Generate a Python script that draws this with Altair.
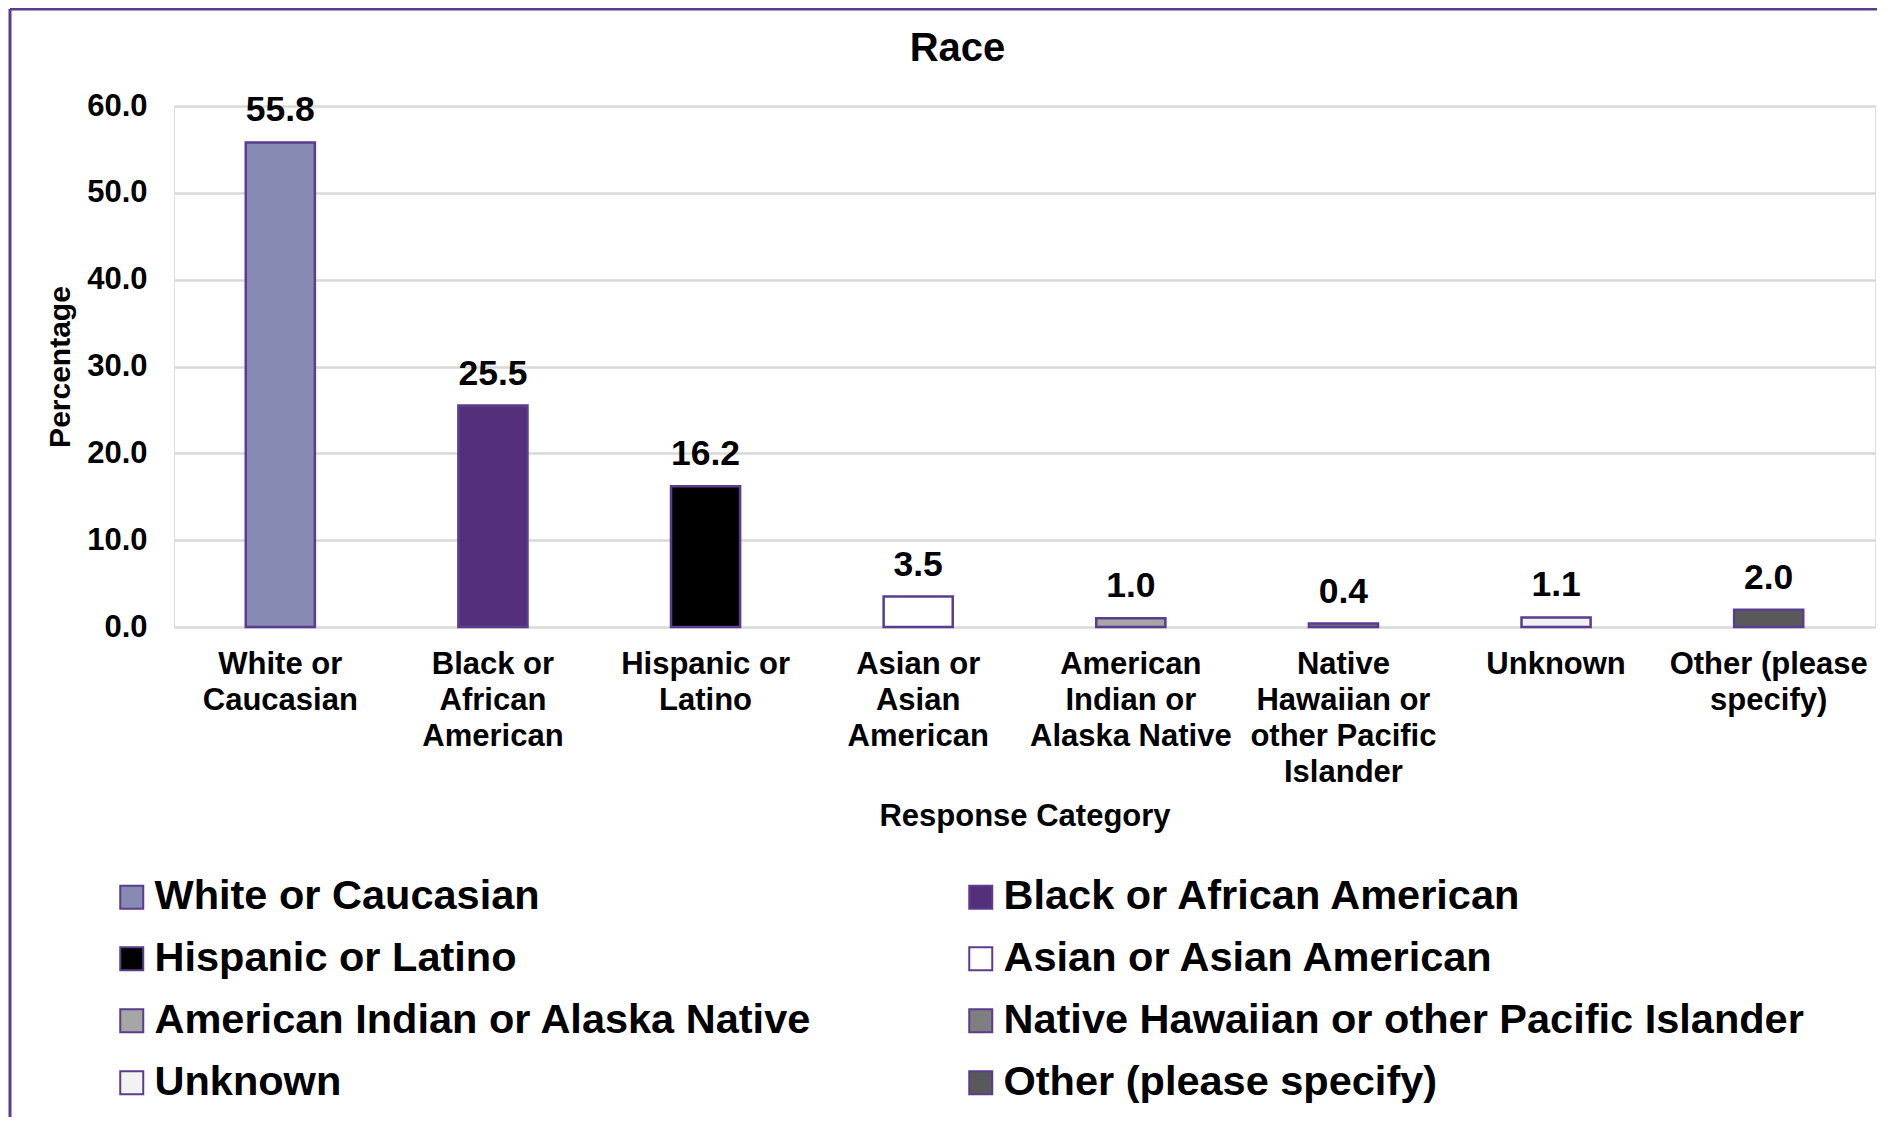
import altair as alt
import pandas as pd

categories = [
    "White or Caucasian",
    "Black or African American",
    "Hispanic or Latino",
    "Asian or Asian American",
    "American Indian or Alaska Native",
    "Native Hawaiian or other Pacific Islander",
    "Unknown",
    "Other (please specify)",
]
axis_labels = [
    "White or|Caucasian",
    "Black or|African|American",
    "Hispanic or|Latino",
    "Asian or|Asian|American",
    "American|Indian or|Alaska Native",
    "Native|Hawaiian or|other Pacific|Islander",
    "Unknown",
    "Other (please|specify)",
]
percentages = [55.8, 25.5, 16.2, 3.5, 1.0, 0.4, 1.1, 2.0]
fill_colors = ["#878bb4", "#54307a", "#000000", "#ffffff", "#a6a6a6", "#7f7f7f", "#f2f2f2", "#595959"]
y_ticks = [0, 10, 20, 30, 40, 50, 60]

# legend is laid out column by column; this order gives the reference's row-wise reading
legend_order = [categories[i] for i in (0, 2, 4, 6, 1, 3, 5, 7)]
legend_colors = [fill_colors[categories.index(c)] for c in legend_order]

FONT = "Liberation Sans"
PURPLE = "#5b3d8f"

df = pd.DataFrame({"category": categories, "axis_label": axis_labels, "pct": percentages})

W, H = 1701, 521

x_enc = alt.X(
    "axis_label:N",
    sort=axis_labels,
    scale=alt.Scale(paddingInner=0.675, paddingOuter=0.3375),
    title="Response Category",
    axis=alt.Axis(
        labelExpr="split(datum.label, '|')",
        labelAngle=0,
        labelFont=FONT,
        labelFontSize=31,
        labelFontWeight="bold",
        labelColor="#000000",
        labelLineHeight=36,
        labelPadding=22,
        labelLimit=0,
        ticks=False,
        domain=False,
        titleFont=FONT,
        titleFontSize=31,
        titleFontWeight="bold",
        titleColor="#000000",
        titleY=189,
        titleBaseline="middle",
    ),
)
y_enc = alt.Y(
    "pct:Q",
    scale=alt.Scale(domain=[0, 60]),
    title="Percentage",
    axis=alt.Axis(
        values=y_ticks,
        format=".1f",
        labelFont=FONT,
        labelFontSize=31,
        labelFontWeight="bold",
        labelColor="#000000",
        labelPadding=27,
        ticks=False,
        domain=False,
        gridColor="#d9d9d9",
        gridWidth=2.5,
        titleFont=FONT,
        titleFontSize=30,
        titleFontWeight="bold",
        titleColor="#000000",
        titleAngle=-90,
        titleX=-114,
        titleY=H / 2,
        titleBaseline="middle",
        titleAlign="center",
    ),
)

color_enc = alt.Color(
    "category:N",
    sort=legend_order,
    scale=alt.Scale(domain=legend_order, range=legend_colors),
    legend=alt.Legend(
        title=None,
        orient="none",
        legendX=-63,
        legendY=770,
        columns=2,
        columnPadding=148,
        rowPadding=19,
        symbolType="square",
        symbolSize=529,
        symbolStrokeColor=PURPLE,
        symbolStrokeWidth=2,
        symbolOpacity=1,
        labelFont=FONT,
        labelFontSize=41.5,
        labelFontWeight="bold",
        labelColor="#000000",
        labelLimit=0,
        labelOffset=2,
    ),
)

bars = alt.Chart(df).mark_bar(stroke=PURPLE, strokeWidth=2.5, opacity=1).encode(
    x=x_enc, y=y_enc, color=color_enc
)

labels = alt.Chart(df).mark_text(
    dy=-32, baseline="middle", font=FONT, fontSize=35.5, fontWeight="bold", color="#000000"
).encode(x=alt.X("axis_label:N", sort=axis_labels), y="pct:Q", text=alt.Text("pct:Q", format=".1f"))

frame_data = alt.Data(values=[{"k": 0}])
frame_left = alt.Chart(frame_data).mark_rule(color=PURPLE, strokeWidth=3).encode(
    x=alt.value(-164), y=alt.value(-97), y2=alt.value(H + 510)
)
frame_top = alt.Chart(frame_data).mark_rule(color=PURPLE, strokeWidth=3).encode(
    x=alt.value(-164), x2=alt.value(W + 10), y=alt.value(-97)
)

chart = (
    alt.layer(bars, labels, frame_left, frame_top)
    .properties(
        width=W,
        height=H,
        title=alt.TitleParams(
            "Race",
            font=FONT,
            fontSize=40,
            fontWeight="bold",
            color="#000000",
            anchor="middle",
            frame="group",
            baseline="alphabetic",
            offset=-93,
            dx=-67,
        ),
        autosize=alt.AutoSizeParams(type="none"),
        padding={"left": 166, "top": 98, "right": 2, "bottom": 490},
    )
    .configure_view(stroke=None)
    .configure(background="#ffffff")
)

chart.save("out.html", embed_options={"renderer": "svg", "actions": False})
